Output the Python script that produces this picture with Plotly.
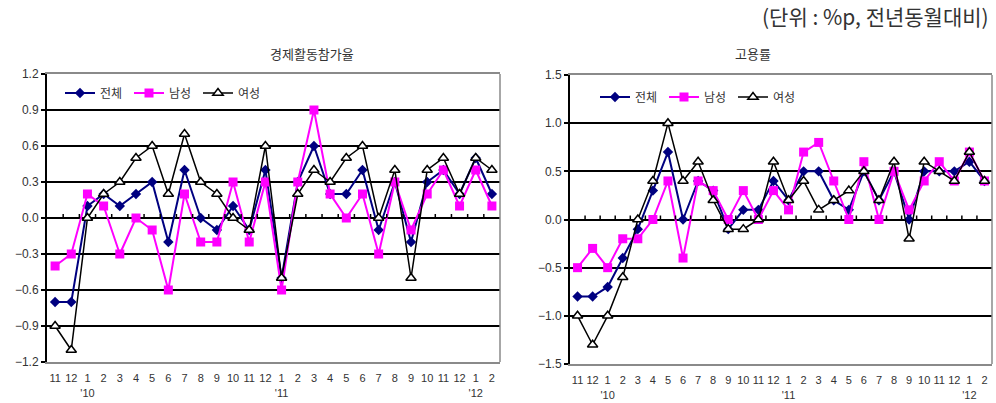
import plotly.graph_objects as go

# Month labels (Nov 2009 - Feb 2012), year marks under January
months = ["11", "12", "1", "2", "3", "4", "5", "6", "7", "8", "9", "10", "11", "12",
          "1", "2", "3", "4", "5", "6", "7", "8", "9", "10", "11", "12", "1", "2"]
year_marks = {2: "'10", 14: "'11", 26: "'12"}

series_names = ["전체", "남성", "여성"]

# 경제활동참가율 (%p, year-on-year)
lf_total = [-0.7, -0.7, 0.1, 0.2, 0.1, 0.2, 0.3, -0.2, 0.4, 0.0, -0.1, 0.1, -0.1, 0.4,
            -0.5, 0.3, 0.6, 0.2, 0.2, 0.4, -0.1, 0.3, -0.2, 0.3, 0.4, 0.2, 0.5, 0.2]
lf_male = [-0.4, -0.3, 0.2, 0.1, -0.3, 0.0, -0.1, -0.6, 0.2, -0.2, -0.2, 0.3, -0.2, 0.3,
           -0.6, 0.3, 0.9, 0.2, 0.0, 0.2, -0.3, 0.3, -0.1, 0.2, 0.4, 0.1, 0.4, 0.1]
lf_female = [-0.9, -1.1, 0.0, 0.2, 0.3, 0.5, 0.6, 0.2, 0.7, 0.3, 0.2, 0.0, -0.1, 0.6,
             -0.5, 0.2, 0.4, 0.3, 0.5, 0.6, 0.0, 0.4, -0.5, 0.4, 0.5, 0.2, 0.5, 0.4]

# 고용률 (%p, year-on-year)
emp_total = [-0.8, -0.8, -0.7, -0.4, -0.1, 0.3, 0.7, 0.0, 0.4, 0.3, -0.1, 0.1, 0.1, 0.4,
             0.2, 0.5, 0.5, 0.2, 0.1, 0.5, 0.2, 0.5, 0.0, 0.5, 0.5, 0.5, 0.6, 0.4]
emp_male = [-0.5, -0.3, -0.5, -0.2, -0.2, 0.0, 0.4, -0.4, 0.4, 0.3, 0.0, 0.3, 0.0, 0.3,
            0.1, 0.7, 0.8, 0.4, 0.0, 0.6, 0.0, 0.5, 0.1, 0.4, 0.6, 0.4, 0.7, 0.4]
emp_female = [-1.0, -1.3, -1.0, -0.6, 0.0, 0.4, 1.0, 0.4, 0.6, 0.2, -0.1, -0.1, 0.0, 0.6,
              0.2, 0.4, 0.1, 0.2, 0.3, 0.5, 0.2, 0.6, -0.2, 0.6, 0.5, 0.4, 0.7, 0.4]

left_ticks = [-1.2, -0.9, -0.6, -0.3, 0.0, 0.3, 0.6, 0.9, 1.2]
right_ticks = [-1.5, -1.0, -0.5, 0.0, 0.5, 1.0, 1.5]

W, H = 996, 403
FONT = "Liberation Sans, Noto Sans CJK KR, sans-serif"
KFONT = "Noto Sans CJK KR, sans-serif"
TXT = "#333333"

styles = [
    dict(color="#000080", width=2, symbol="diamond", size=8, fill="#000080", mline=0),
    dict(color="#FF00FF", width=2, symbol="square", size=9, fill="#FF00FF", mline=0),
    dict(color="#000000", width=1.5, symbol="triangle-up", size=9, fill="#FFFFFF", mline=1.5),
]

xs = list(range(len(months)))
ticktext = [m + ("<br>" + year_marks[i] if i in year_marks else "<br> ") for i, m in enumerate(months)]


def px_x(p):
    return p / W


def px_y(p):
    return 1 - p / H


fig = go.Figure()

panels = [
    dict(xa="x", ya="y", legend="legend", data=[lf_total, lf_male, lf_female]),
    dict(xa="x2", ya="y2", legend="legend2", data=[emp_total, emp_male, emp_female]),
]

for panel in panels:
    for name, vals, st in zip(series_names, panel["data"], styles):
        fig.add_trace(go.Scatter(
            x=xs, y=vals, name=name, mode="lines+markers",
            xaxis=panel["xa"], yaxis=panel["ya"], legend=panel["legend"],
            line=dict(color=st["color"], width=st["width"]),
            marker=dict(symbol=st["symbol"], size=st["size"], color=st["fill"],
                        line=dict(color=st["color"], width=st["mline"])),
            cliponaxis=False,
        ))


def x_axis(domain, anchor):
    return dict(
        domain=domain, anchor=anchor, range=[-0.5, len(months) - 0.5],
        tickmode="array", tickvals=xs, ticktext=ticktext, tickangle=0,
        tickfont=dict(family=FONT, size=11, color=TXT), ticks="", ticklabelstandoff=5,
        showgrid=False, zeroline=False, automargin=False,
        showline=True, linecolor="#8a8a8a", linewidth=2, mirror=True,
    )


def y_axis(domain, anchor, ticks_vals):
    lim = ticks_vals[-1]
    return dict(
        domain=domain, anchor=anchor, range=[-lim, lim],
        tickmode="array", tickvals=ticks_vals, tickformat=".1f",
        tickfont=dict(family=FONT, size=12, color=TXT), automargin=False,
        ticks="outside", ticklen=4, tickcolor="#000", tickwidth=1.5,
        showgrid=True, gridcolor="#000000", gridwidth=2,
        zeroline=True, zerolinecolor="#000000", zerolinewidth=2,
        showline=True, linecolor="#000000", linewidth=2,
    )


left_x = [px_x(47), px_x(500)]
left_y = [px_y(362), px_y(74)]
right_x = [px_x(570), px_x(992)]
right_y = [px_y(364), px_y(75)]

legend_common = dict(orientation="h", xanchor="left", yanchor="middle",
                     bgcolor="rgba(0,0,0,0)", font=dict(family=KFONT, size=12, color=TXT),
                     itemwidth=30, tracegroupgap=0, entrywidth=24)

fig.update_layout(
    width=W, height=H,
    margin=dict(l=0, r=0, t=0, b=0, autoexpand=False),
    paper_bgcolor="white", plot_bgcolor="white",
    xaxis=x_axis(left_x, "y"),
    yaxis=y_axis(left_y, "x", left_ticks),
    xaxis2=x_axis(right_x, "y2"),
    yaxis2=y_axis(right_y, "x2", right_ticks),
    legend=dict(x=px_x(60), y=px_y(93), **legend_common),
    legend2=dict(x=px_x(595), y=px_y(97), **legend_common),
    showlegend=True,
)

# small ticks along the zero line between categories, plus right frame edges
shapes = []
for xa, ya, plot_h in [("x", "y", 288), ("x2", "y2", 289)]:
    for i in range(len(months) - 1):
        shapes.append(dict(type="line", xref=xa, yref=ya + " domain",
                           x0=i + 0.5, x1=i + 0.5, y0=0.5, y1=0.5 + 4 / plot_h,
                           line=dict(color="#000", width=1.5), layer="above"))
    shapes.append(dict(type="line", xref=xa + " domain", yref=ya + " domain",
                       x0=1, x1=1, y0=0, y1=1, line=dict(color="#8a8a8a", width=1.5)))
fig.update_layout(shapes=shapes)

fig.add_annotation(text="경제활동참가율", xref="paper", yref="paper",
                   x=px_x(268), y=px_y(53), yanchor="middle", showarrow=False,
                   font=dict(family=KFONT, size=13, color=TXT))
fig.add_annotation(text="고용률", xref="paper", yref="paper",
                   x=px_x(773), y=px_y(53), yanchor="middle", showarrow=False,
                   font=dict(family=KFONT, size=13, color=TXT))
fig.add_annotation(text="(단위 : %p, 전년동월대비)", xref="paper", yref="paper",
                   x=px_x(991), y=px_y(16), xanchor="right", yanchor="middle", showarrow=False,
                   font=dict(family=KFONT, size=21, color=TXT))

fig.write_html("out.html")
